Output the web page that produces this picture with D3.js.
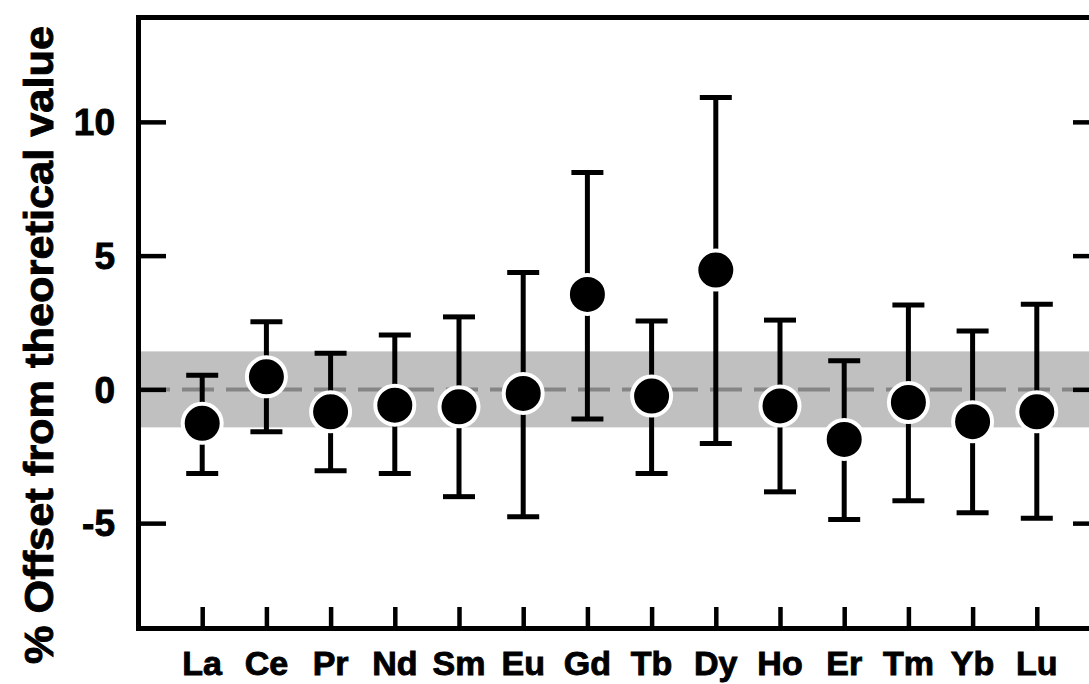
<!DOCTYPE html>
<html>
<head>
<meta charset="utf-8">
<script src="https://cdn.jsdelivr.net/npm/d3@7"></script>
<style>
  body { margin: 0; background: #fff; }
  text { font-family: "Liberation Sans", Arial, sans-serif; font-weight: bold; fill: #000; stroke: #000; stroke-width: 0.9px; }
</style>
</head>
<body>
<script>
// rare earth elements, % offset with error range
var elements = ["La","Ce","Pr","Nd","Sm","Eu","Gd","Tb","Dy","Ho","Er","Tm","Yb","Lu"];
var offsets  = [-1.27, 0.47, -0.84, -0.59, -0.65, -0.15, 3.55, -0.25, 4.46, -0.62, -1.87, -0.49, -1.21, -0.84];
var upper    = [0.53, 2.53, 1.35, 2.03, 2.71, 4.37, 8.11, 2.56, 10.91, 2.59, 1.07, 3.15, 2.18, 3.18];
var lower    = [-3.14, -1.58, -3.04, -3.14, -4.01, -4.76, -1.11, -3.14, -2.02, -3.83, -4.86, -4.16, -4.61, -4.82];
var yTicks   = [-5, 0, 5, 10];
var band     = [-1.42, 1.42];

var width = 1089, height = 684;

var svg = d3.select("body").append("svg")
    .attr("width", width)
    .attr("height", height);

var x = d3.scaleLinear().domain([-1, 14]).range([138, 1101]);
var y = d3.scaleLinear().domain([-8.92, 13.92]).range([628, 17]);

// shaded band and zero line
svg.append("rect")
    .attr("x", x(-1))
    .attr("y", y(band[1]))
    .attr("width", x(14) - x(-1))
    .attr("height", y(band[0]) - y(band[1]))
    .attr("fill", "#c0c0c0");

svg.append("line")
    .attr("x1", x(-1)).attr("x2", x(14))
    .attr("y1", y(0)).attr("y2", y(0))
    .attr("stroke", "#858585")
    .attr("stroke-width", 4)
    .attr("stroke-dasharray", "32,12");

// axes (ticks pointing inward)
var gLeft = svg.append("g")
    .attr("transform", "translate(" + x(-1) + ",0)")
    .call(d3.axisRight(y).tickValues(yTicks).tickSize(28).tickFormat(""));

var gRight = svg.append("g")
    .attr("transform", "translate(" + x(14) + ",0)")
    .call(d3.axisLeft(y).tickValues(yTicks).tickSize(28).tickFormat(""));

var gBottom = svg.append("g")
    .attr("transform", "translate(0," + y(-8.92) + ")")
    .call(d3.axisTop(x).tickValues(d3.range(elements.length)).tickSize(21).tickFormat(""));

var gTop = svg.append("g")
    .attr("transform", "translate(0," + y(13.92) + ")")
    .call(d3.axisBottom(x).tickValues([]).tickSize(0));

[gLeft, gRight, gBottom, gTop].forEach(function(g) {
  g.select(".domain").attr("stroke", "#000").attr("stroke-width", 5);
  g.selectAll(".tick line").attr("stroke", "#000").attr("stroke-width", 4.5);
});

// tick labels
svg.selectAll(".ylab")
    .data(yTicks)
  .enter().append("text")
    .attr("class", "ylab")
    .attr("x", 115)
    .attr("y", function(d) { return y(d); })
    .attr("dy", "0.36em")
    .attr("text-anchor", "end")
    .style("font-size", "37px")
    .text(function(d) { return d; });

svg.selectAll(".xlab")
    .data(elements)
  .enter().append("text")
    .attr("class", "xlab")
    .attr("x", function(d, i) { return x(i); })
    .attr("y", 675)
    .attr("text-anchor", "middle")
    .style("font-size", "34px")
    .text(function(d) { return d; });

svg.append("text")
    .attr("transform", "translate(53,345) rotate(-90)")
    .attr("text-anchor", "middle")
    .attr("textLength", 638)
    .attr("lengthAdjust", "spacingAndGlyphs")
    .style("font-size", "40px")
    .text("% Offset from theoretical value");

// error bars
var bars = svg.selectAll(".err")
    .data(elements)
  .enter().append("g")
    .attr("class", "err")
    .attr("stroke", "#000")
    .attr("stroke-width", 5);

bars.append("line")
    .attr("x1", function(d, i) { return x(i); })
    .attr("x2", function(d, i) { return x(i); })
    .attr("y1", function(d, i) { return y(upper[i]); })
    .attr("y2", function(d, i) { return y(lower[i]); });

bars.append("line")
    .attr("x1", function(d, i) { return x(i) - 16; })
    .attr("x2", function(d, i) { return x(i) + 16; })
    .attr("y1", function(d, i) { return y(upper[i]); })
    .attr("y2", function(d, i) { return y(upper[i]); });

bars.append("line")
    .attr("x1", function(d, i) { return x(i) - 16; })
    .attr("x2", function(d, i) { return x(i) + 16; })
    .attr("y1", function(d, i) { return y(lower[i]); })
    .attr("y2", function(d, i) { return y(lower[i]); });

// points
svg.selectAll(".pt")
    .data(offsets)
  .enter().append("circle")
    .attr("class", "pt")
    .attr("cx", function(d, i) { return x(i); })
    .attr("cy", function(d) { return y(d); })
    .attr("r", 19.5)
    .attr("fill", "#000")
    .attr("stroke", "#fff")
    .attr("stroke-width", 4);
</script>
</body>
</html>
